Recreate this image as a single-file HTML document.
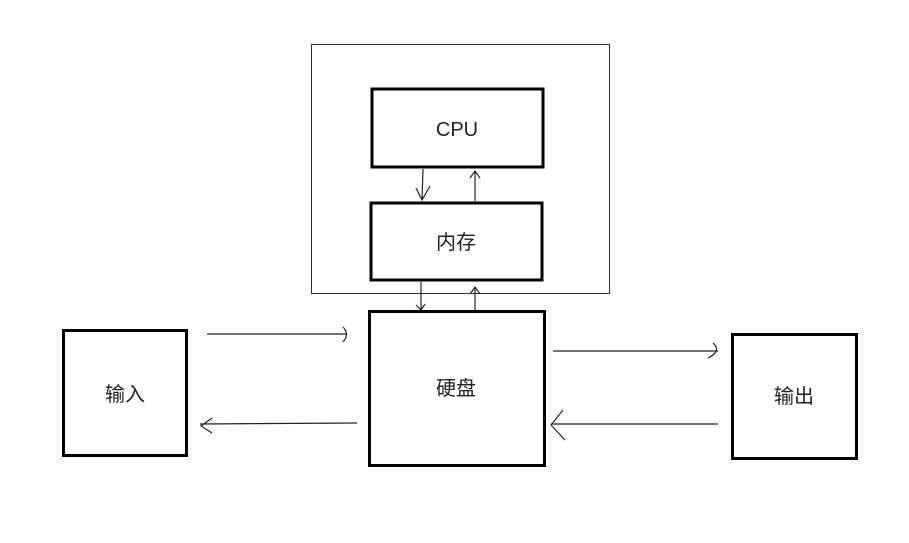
<!DOCTYPE html>
<html><head><meta charset="utf-8"><style>
html,body{margin:0;padding:0;background:#fff;}
svg{display:block;}
text{font-family:"Liberation Sans","Noto Sans CJK SC",sans-serif;font-size:20px;fill:#222;}
</style></head><body>
<svg width="909" height="543" viewBox="0 0 909 543" xmlns="http://www.w3.org/2000/svg">
<rect width="909" height="543" fill="#fff"/>
<rect x="311.5" y="44.5" width="298" height="249" fill="none" stroke="#333" stroke-width="1"/>
<g fill="none" stroke="#000" stroke-width="3">
<rect x="372" y="89" width="171" height="78"/>
<rect x="371" y="203" width="171" height="77"/>
<rect x="369.5" y="311.5" width="175" height="154"/>
<rect x="63.5" y="330.5" width="123" height="125"/>
<rect x="732.5" y="334.5" width="124" height="124"/>
</g>
<text x="457" y="136" text-anchor="middle">CPU</text>
<text x="456" y="249" text-anchor="middle">内存</text>
<text x="456" y="395" text-anchor="middle">硬盘</text>
<text x="125" y="401" text-anchor="middle">输入</text>
<text x="794" y="403" text-anchor="middle">输出</text>
<g fill="none" stroke="#222" stroke-width="1.2">
<path d="M423 169 L422 200 M416 188 L422 200 L430 186"/>
<path d="M475 201 L475 172 M470 178 L475 171 L480 178"/>
<path d="M421 282 L421 310 M416 305 L421 310 L425 304"/>
<path d="M475 310 L475 287 M470 294 L475 287 L480 294"/>
<path d="M207 334 L347 334 M343 327 Q350 334 343 342"/>
<path d="M357 423 L200 424 M212 418 L201 426 L212 433"/>
<path d="M553 351 L718 351 M713 343 Q722 351 708 358"/>
<path d="M718 424 L551 424 M563 410 L551 425 L565 440"/>
</g>
</svg>
</body></html>
